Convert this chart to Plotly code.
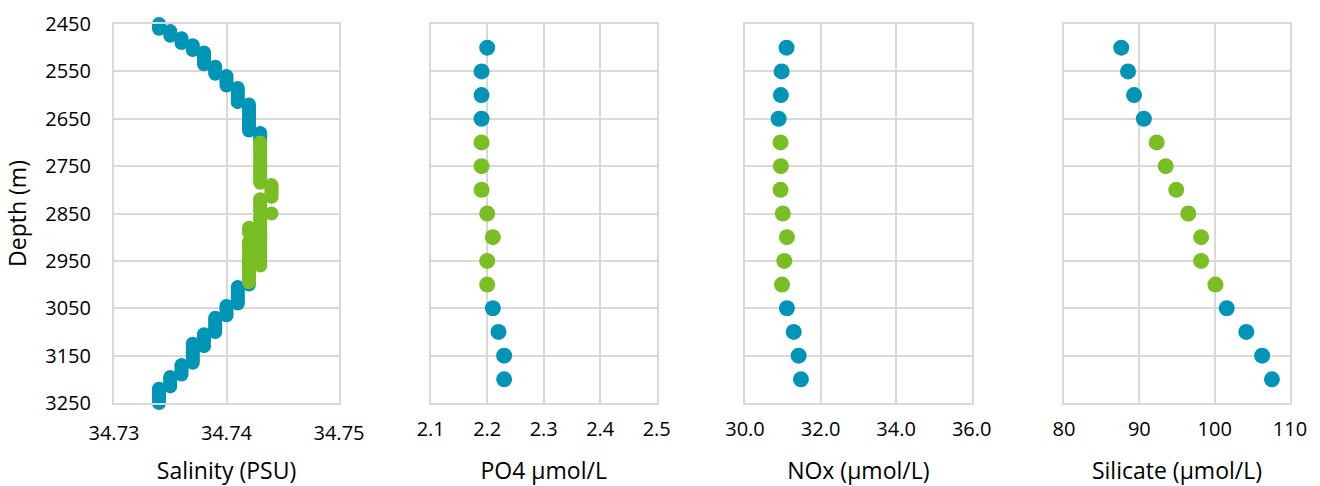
import plotly.graph_objects as go

# ---------------- data ----------------
# Salinity CTD profile (quantised to 0.001 PSU), outside core layer (blue)
sal_blue_depth = [2450, 2455, 2460, 2465, 2470, 2475, 2480, 2485, 2490, 2495, 2500, 2505,
                  2510, 2515, 2520, 2525, 2530, 2535, 2540, 2545, 2550, 2555,
                  2560, 2565, 2570, 2575, 2580, 2585, 2590, 2595, 2600, 2605, 2610, 2615,
                  2620, 2625, 2630, 2635, 2640, 2645, 2650, 2655, 2660, 2665, 2670, 2675,
                  2680, 2685, 2690, 2695,
                  3000, 3005, 3010, 3015, 3020, 3025, 3030, 3035, 3040,
                  3045, 3050, 3055, 3060, 3065,
                  3070, 3075, 3080, 3085, 3090, 3095, 3100,
                  3105, 3110, 3115, 3120, 3125, 3130,
                  3135, 3140, 3145, 3150, 3155, 3160, 3165,
                  3170, 3175, 3180, 3185, 3190,
                  3195, 3200, 3205, 3210, 3215,
                  3220, 3225, 3230, 3235, 3240, 3245, 3250]
sal_blue = [34.734, 34.734, 34.734, 34.735, 34.735, 34.735, 34.736, 34.736, 34.736, 34.737, 34.737, 34.737,
            34.738, 34.738, 34.738, 34.738, 34.738, 34.738, 34.739, 34.739, 34.739, 34.739,
            34.740, 34.740, 34.740, 34.740, 34.740, 34.741, 34.741, 34.741, 34.741, 34.741, 34.741, 34.741,
            34.742, 34.742, 34.742, 34.742, 34.742, 34.742, 34.742, 34.742, 34.742, 34.742, 34.742, 34.742,
            34.743, 34.743, 34.743, 34.743,
            34.742, 34.741, 34.741, 34.741, 34.741, 34.741, 34.741, 34.741, 34.741,
            34.740, 34.740, 34.740, 34.740, 34.740,
            34.739, 34.739, 34.739, 34.739, 34.739, 34.739, 34.739,
            34.738, 34.738, 34.738, 34.738, 34.737, 34.738,
            34.737, 34.737, 34.737, 34.737, 34.737, 34.737, 34.737,
            34.736, 34.736, 34.736, 34.736, 34.736,
            34.735, 34.735, 34.735, 34.735, 34.735,
            34.734, 34.734, 34.734, 34.734, 34.734, 34.734, 34.734]

# Salinity in the core layer (green)
sal_green_depth = [2700, 2705, 2710, 2715, 2720, 2725, 2730, 2735, 2740, 2745, 2750, 2755,
                   2760, 2765, 2770, 2775, 2780, 2785,
                   2790, 2795, 2800, 2805, 2810, 2815,
                   2820, 2825, 2830, 2835, 2840, 2845, 2850,
                   2855, 2860, 2865, 2870, 2875, 2880, 2885, 2890, 2895, 2900,
                   2905, 2910, 2915, 2920, 2925, 2930, 2935, 2940, 2945, 2950, 2955, 2960,
                   2880, 2885, 2890, 2910, 2915, 2920, 2925, 2935, 2940, 2945, 2950,
                   2955, 2960, 2965, 2970, 2975, 2980, 2985, 2990, 2995]
sal_green = [34.743, 34.743, 34.743, 34.743, 34.743, 34.743, 34.743, 34.743, 34.743, 34.743, 34.743, 34.743,
             34.743, 34.743, 34.743, 34.743, 34.743, 34.743,
             34.744, 34.744, 34.744, 34.744, 34.744, 34.744,
             34.743, 34.743, 34.743, 34.743, 34.743, 34.743, 34.744,
             34.743, 34.743, 34.743, 34.743, 34.743, 34.743, 34.743, 34.743, 34.743, 34.743,
             34.743, 34.743, 34.743, 34.743, 34.743, 34.743, 34.743, 34.743, 34.743, 34.743, 34.743, 34.743,
             34.742, 34.742, 34.742, 34.742, 34.742, 34.742, 34.742, 34.742, 34.742, 34.742, 34.742,
             34.742, 34.742, 34.742, 34.742, 34.742, 34.742, 34.742, 34.742, 34.742]

# Bottle samples (nutrients)
nut_depth = [2500, 2550, 2600, 2650, 2700, 2750, 2800, 2850, 2900, 2950, 3000, 3050, 3100, 3150, 3200]
po4 = [2.20, 2.19, 2.19, 2.19, 2.19, 2.19, 2.19, 2.20, 2.21, 2.20, 2.20, 2.21, 2.22, 2.23, 2.23]
nox = [31.10, 30.97, 30.95, 30.89, 30.94, 30.95, 30.94, 31.00, 31.11, 31.04, 30.98, 31.11, 31.29, 31.42, 31.48]
silicate = [87.6, 88.5, 89.3, 90.6, 92.3, 93.5, 94.9, 96.5, 98.2, 98.2, 100.1, 101.6, 104.2, 106.3, 107.6]
in_core = [False, False, False, False, True, True, True, True, True, True, True, False, False, False, False]

x_titles = ["Salinity (PSU)", "PO4 µmol/L", "NOx (µmol/L)", "Silicate (µmol/L)"]
y_title = "Depth (m)"

# ---------------- style ----------------
BLUE = "#0095B6"
GREEN = "#79BE22"
GRID = "#D9D9D9"
FONT = "Open Sans"
W, H = 1320, 486

fig = go.Figure()

# salinity
fig.add_trace(go.Scatter(x=sal_blue, y=sal_blue_depth, mode="markers",
                         marker=dict(color=BLUE, size=14), cliponaxis=False,
                         xaxis="x", yaxis="y", showlegend=False))
fig.add_trace(go.Scatter(x=sal_green, y=sal_green_depth, mode="markers",
                         marker=dict(color=GREEN, size=14), cliponaxis=False,
                         xaxis="x", yaxis="y", showlegend=False))

# nutrients
for i, vals in enumerate([po4, nox, silicate], start=2):
    bx = [v for v, c in zip(vals, in_core) if not c]
    by = [d for d, c in zip(nut_depth, in_core) if not c]
    gx = [v for v, c in zip(vals, in_core) if c]
    gy = [d for d, c in zip(nut_depth, in_core) if c]
    fig.add_trace(go.Scatter(x=bx, y=by, mode="markers", marker=dict(color=BLUE, size=16),
                             cliponaxis=False, xaxis=f"x{i}", yaxis=f"y{i}", showlegend=False))
    fig.add_trace(go.Scatter(x=gx, y=gy, mode="markers", marker=dict(color=GREEN, size=16),
                             cliponaxis=False, xaxis=f"x{i}", yaxis=f"y{i}", showlegend=False))

domains_px = [(114, 339), (430.7, 656.7), (745, 971.7), (1064, 1290)]
x_ranges = [[34.73, 34.75], [2.1, 2.5], [30, 36], [80, 110]]
x_dticks = [0.01, 0.1, 2, 10]
x_formats = [".2f", ".1f", ".1f", "d"]
y_dom = [1 - 403 / H, 1 - 24 / H]

layout = dict(width=W, height=H, margin=dict(l=0, r=0, t=0, b=0),
              paper_bgcolor="white", plot_bgcolor="white",
              font=dict(family=FONT, size=20, color="#000000"))

for k in range(4):
    sfx = "" if k == 0 else str(k + 1)
    a, b = domains_px[k]
    layout["xaxis" + sfx] = dict(
        domain=[a / W, b / W], range=x_ranges[k], dtick=x_dticks[k], tick0=x_ranges[k][0],
        tickformat=x_formats[k], showgrid=True, gridcolor=GRID, gridwidth=2,
        showline=True, linecolor=GRID, linewidth=2, mirror=True, zeroline=False,
        ticks="outside", ticklen=11 if k == 0 else 7, tickcolor="rgba(0,0,0,0)",
        title=dict(text=x_titles[k], standoff=21 if k == 0 else 25, font=dict(size=23)),
        anchor="y" + sfx, automargin=False, fixedrange=True)
    layout["yaxis" + sfx] = dict(
        domain=y_dom, range=[3250, 2450], dtick=100, tick0=2450,
        showgrid=True, gridcolor=GRID, gridwidth=2,
        showline=True, linecolor=GRID, linewidth=2, mirror=True, zeroline=False,
        ticks="outside" if k == 0 else "", ticklen=17, tickcolor="rgba(0,0,0,0)",
        showticklabels=(k == 0),
        title=dict(text=y_title if k == 0 else "", standoff=12, font=dict(size=23)),
        anchor="x" + sfx, automargin=False, fixedrange=True)

fig.update_layout(**layout)
fig.write_html("out.html", config={"displayModeBar": False},
               post_script="document.body.style.margin='0';")
